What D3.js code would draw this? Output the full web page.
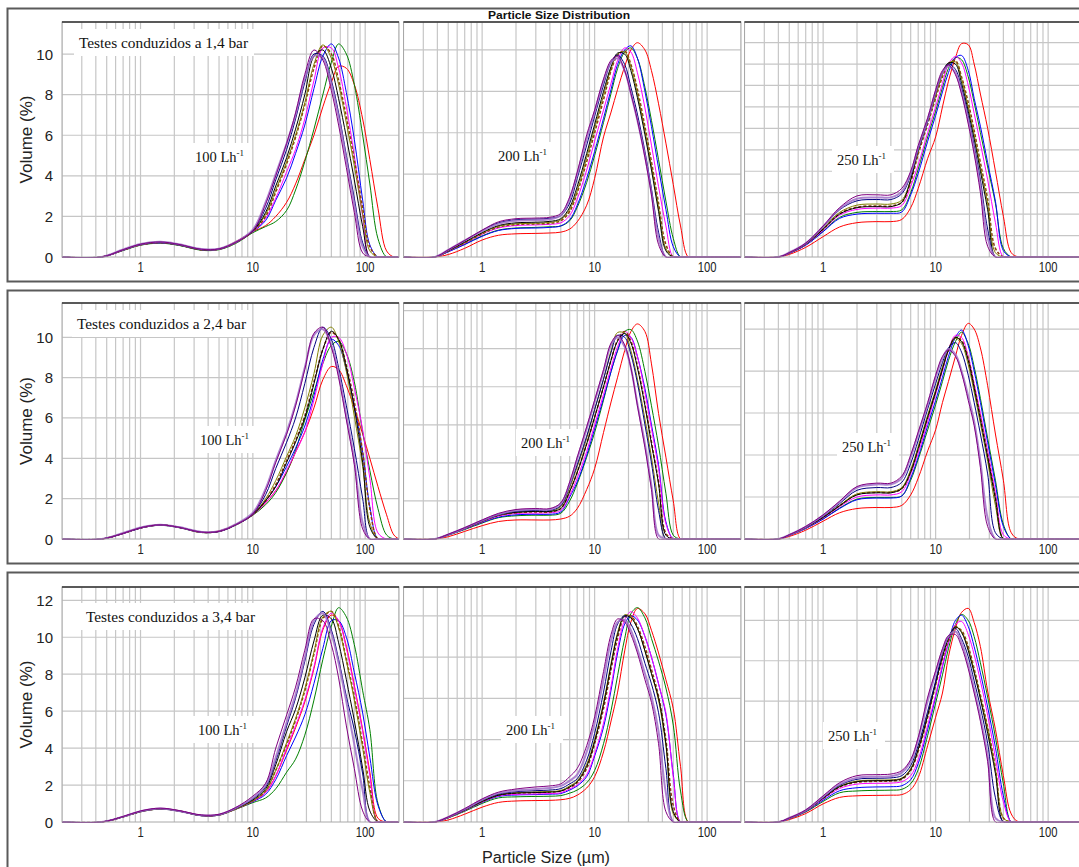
<!DOCTYPE html>
<html><head><meta charset="utf-8">
<script src="https://cdn.jsdelivr.net/npm/d3@7"></script>
<style>body{margin:0;background:#fff}svg{display:block}</style>
</head><body><svg id="c" width="1079" height="867"></svg>
<script>
// ---------------- data ----------------
const seriesNames  = ['purple','lilac','navy','black','olive','brown','magenta','blue','green','red'];
const seriesColors = ['#800080','#a070c8','#000080','#000000','#808000','#8b3a0f','#ff00ff','#0000ff','#008000','#ff0000'];
const xTickLabels = [1, 10, 100];
const rowLabels = ['Testes conduzidos a 1,4 bar','Testes conduzidos a 2,4 bar','Testes conduzidos a 3,4 bar'];
const flowLabels = ['100 Lh','200 Lh','250 Lh'];
const flowSup = '-1';
const yTickLabels = [[0,2,4,6,8,10],[0,2,4,6,8,10],[0,2,4,6,8,10,12]];
const yMaxes = [[11.58,11.35,10.96],[11.7,12.4,11.24],[12.72,11.4,11.66]];
const yGridSteps = [[2,2,1],[2,2,2],[2,2,2]];

const xGrid100 = [0.2,0.45,0.7,1,1.5,2.2,3.5,5,7,10,13,16,20,24,29,35,42,50,58,68,80,95,110,130,155,180,200];
const xGrid200 = [0.2,0.38,0.5,0.7,1,1.4,2,3,4,5,6,7,8.5,10,12,14,16,18.5,21,24,28,32,37,43,50,58,68,80,200];
const xGrid250 = [0.2,0.4,0.5,0.7,1,1.4,2,3,4,5,6,7,8.5,10,11.5,13,15,17,19.5,22,25,29,34,40,47,55,200];

// order of each panel: purple, lilac, navy, black, olive, brown, magenta, blue, green, red
const r1_100 = [
 [0,0,0.36,0.63,0.74,0.62,0.38,0.40,0.72,1.3,2.6,4.0,5.6,7.1,9.0,10.2,9.7,8.2,6.5,4.4,2.2,0.2,0,0,0,0,0],
 [0,0,0.37,0.64,0.75,0.63,0.39,0.41,0.73,1.35,2.7,4.1,5.6,7.0,8.8,9.9,9.8,8.5,6.9,4.8,2.6,0.5,0,0,0,0,0],
 [0,0,0.35,0.62,0.73,0.61,0.37,0.40,0.72,1.3,2.4,3.8,5.3,6.8,8.6,10.0,9.9,8.7,7.1,5.0,2.9,0.7,0,0,0,0,0],
 [0,0,0.35,0.62,0.72,0.61,0.37,0.39,0.71,1.28,2.2,3.5,4.9,6.3,8.0,9.9,10.2,9.3,7.8,5.9,3.8,1.5,0,0,0,0,0],
 [0,0,0.34,0.61,0.72,0.6,0.36,0.39,0.7,1.27,2.1,3.3,4.7,6.0,7.6,9.5,10.45,9.8,8.5,6.6,4.5,2.1,0.3,0,0,0,0],
 [0,0,0.34,0.61,0.71,0.6,0.36,0.39,0.7,1.27,2.0,3.2,4.6,5.9,7.5,9.3,10.4,10.0,8.7,6.9,4.8,2.4,0.5,0,0,0,0],
 [0,0,0.34,0.6,0.71,0.6,0.36,0.38,0.7,1.25,1.9,2.9,4.2,5.3,6.8,8.7,10.3,10.3,9.3,7.4,5.0,2.0,0,0,0,0,0],
 [0,0,0.33,0.6,0.7,0.59,0.35,0.38,0.69,1.25,1.8,2.8,3.9,5.1,6.5,8.3,9.9,10.5,9.8,8.1,5.8,2.8,0.6,0,0,0,0],
 [0,0,0.32,0.58,0.68,0.57,0.33,0.36,0.66,1.2,1.5,1.75,2.3,3.3,4.7,6.3,8.0,9.6,10.5,10.0,8.5,6.0,3.6,0.9,0,0,0],
 [0,0,0.33,0.6,0.7,0.58,0.35,0.4,0.75,1.25,1.55,2.0,2.7,3.6,4.8,6.0,7.4,8.6,9.4,9.3,8.5,6.8,4.8,2.4,0.3,0,0]
];
const r1_200 = [
 [0,0,0.35,0.8,1.3,1.7,1.85,1.88,1.92,2.1,2.9,4.1,5.9,7.1,8.6,9.5,9.7,9.0,7.9,6.6,4.8,3.0,0.6,0,0,0,0,0,0],
 [0,0,0.34,0.8,1.25,1.6,1.75,1.78,1.82,2.0,2.8,4.0,5.7,7.0,8.5,9.4,9.6,9.0,7.9,6.6,4.9,3.1,0.9,0,0,0,0,0,0],
 [0,0,0.33,0.78,1.28,1.65,1.8,1.83,1.87,2.0,2.6,3.8,5.4,6.8,8.3,9.4,9.75,9.3,8.2,6.9,5.1,3.3,1.2,0,0,0,0,0,0],
 [0,0,0.3,0.72,1.18,1.52,1.65,1.68,1.72,1.85,2.4,3.4,5.0,6.4,8.0,9.2,9.85,9.8,9.0,7.7,5.9,4.2,2.2,0.3,0,0,0,0,0],
 [0,0,0.3,0.7,1.15,1.48,1.6,1.63,1.67,1.8,2.3,3.2,4.8,6.2,7.8,9.1,9.8,9.9,9.2,7.9,6.1,4.4,2.4,0.4,0,0,0,0,0],
 [0,0,0.29,0.68,1.12,1.45,1.57,1.6,1.63,1.75,2.2,3.1,4.6,6.0,7.6,9.0,9.75,9.95,9.3,8.1,6.3,4.6,2.6,0.6,0,0,0,0,0],
 [0,0,0.28,0.66,1.1,1.4,1.52,1.55,1.58,1.65,2.0,2.8,4.2,5.6,7.1,8.4,9.5,10.1,9.9,8.9,7.2,5.4,3.4,1.5,0,0,0,0,0],
 [0,0,0.25,0.6,1.0,1.28,1.38,1.4,1.43,1.5,1.8,2.5,3.8,5.1,6.7,8.1,9.3,10.0,10.2,9.6,8.0,6.3,4.3,2.3,0.5,0,0,0,0],
 [0,0,0.26,0.62,1.02,1.3,1.4,1.43,1.46,1.5,1.75,2.4,3.6,4.9,6.5,7.9,9.1,9.9,10.1,9.6,8.2,6.6,4.7,2.7,0.9,0,0,0,0],
 [0,0,0.12,0.42,0.82,1.05,1.12,1.14,1.16,1.2,1.35,1.7,2.5,3.8,5.8,7.0,8.1,9.2,10.0,10.35,10.0,9.0,7.4,5.5,3.5,1.5,0,0,0]
];
const r1_250 = [
 [0,0,0.2,0.65,1.45,2.3,2.85,2.9,2.9,3.2,4.0,5.2,6.5,7.8,8.7,8.95,8.5,7.6,6.2,4.8,3.0,0.5,0,0,0,0,0],
 [0,0,0.21,0.64,1.42,2.25,2.72,2.78,2.78,3.05,3.9,5.1,6.4,7.7,8.6,8.9,8.6,7.7,6.4,5.0,3.3,0.9,0,0,0,0,0],
 [0,0,0.2,0.63,1.4,2.2,2.62,2.68,2.68,2.95,3.8,5.0,6.3,7.7,8.6,9.0,8.75,7.9,6.6,5.2,3.6,1.3,0,0,0,0,0],
 [0,0,0.19,0.6,1.3,2.0,2.3,2.35,2.35,2.55,3.6,5.0,6.4,7.6,8.6,9.05,9.0,8.1,6.8,5.5,4.0,2.2,0,0,0,0,0],
 [0,0,0.2,0.6,1.33,2.08,2.42,2.47,2.47,2.65,3.6,4.9,6.3,7.5,8.5,9.05,9.1,8.3,7.0,5.7,4.2,2.5,0.2,0,0,0,0],
 [0,0,0.19,0.6,1.3,2.02,2.33,2.38,2.38,2.55,3.5,4.8,6.2,7.4,8.4,9.0,9.15,8.4,7.2,5.9,4.4,2.7,0.4,0,0,0,0],
 [0,0,0.18,0.58,1.25,1.95,2.22,2.28,2.28,2.4,3.3,4.3,5.8,7.0,8.1,9.0,9.35,9.05,8.0,6.7,5.3,3.6,1.6,0,0,0,0],
 [0,0,0.17,0.55,1.18,1.8,2.0,2.04,2.04,2.1,2.9,3.9,5.4,6.6,7.7,8.6,9.3,9.4,8.7,7.4,6.1,4.4,2.6,0.3,0,0,0],
 [0,0,0.17,0.56,1.2,1.85,2.08,2.12,2.12,2.2,3.0,4.1,5.6,6.8,7.9,8.8,9.3,9.2,8.4,7.2,5.8,4.2,2.5,0.4,0,0,0],
 [0,0,0.12,0.45,0.95,1.4,1.6,1.65,1.65,1.75,2.3,3.2,4.6,5.6,7.0,8.2,9.3,9.95,9.9,9.0,7.6,6.0,4.0,1.9,0.2,0,0]
];
const r2_100 = [
 [0,0,0.28,0.56,0.7,0.58,0.34,0.38,0.7,1.25,2.4,3.8,5.2,6.6,8.4,10.2,10.5,9.5,8.0,5.9,3.7,0.5,0,0,0,0,0],
 [0,0,0.3,0.57,0.71,0.59,0.35,0.39,0.72,1.3,2.5,3.9,5.3,6.7,8.5,10.1,10.4,9.6,8.2,6.1,3.9,0.8,0,0,0,0,0],
 [0,0,0.28,0.55,0.7,0.58,0.34,0.38,0.7,1.25,2.2,3.5,4.8,6.0,7.7,9.5,10.5,9.9,8.5,6.6,4.5,2.0,0,0,0,0,0],
 [0,0,0.28,0.55,0.7,0.58,0.33,0.38,0.7,1.22,1.9,2.6,3.8,4.8,6.0,7.7,9.4,10.3,9.9,8.5,6.5,3.8,0.6,0,0,0,0],
 [0,0,0.28,0.55,0.69,0.58,0.33,0.38,0.7,1.22,2.0,2.9,4.1,5.1,6.5,8.2,10.1,10.5,9.8,8.3,6.1,3.6,0.8,0,0,0,0],
 [0,0,0.28,0.55,0.7,0.58,0.33,0.38,0.7,1.22,1.9,2.7,3.9,4.9,6.1,7.8,9.4,10.25,9.9,8.6,6.8,4.3,1.5,0,0,0,0],
 [0,0,0.27,0.54,0.69,0.57,0.33,0.37,0.69,1.2,1.8,2.4,3.4,4.3,5.3,6.9,8.7,10.0,10.0,9.2,7.5,5.4,3.0,0.3,0,0,0],
 [0,0,0.27,0.54,0.69,0.57,0.33,0.37,0.69,1.2,1.9,2.6,3.6,4.5,5.6,7.1,8.9,9.9,9.6,8.4,6.6,4.3,1.6,0,0,0,0],
 [0,0,0.27,0.54,0.68,0.56,0.32,0.37,0.68,1.18,1.7,2.3,3.3,4.4,5.9,7.3,8.7,9.6,9.8,9.2,7.8,5.3,3.4,1.5,0.2,0,0],
 [0,0,0.27,0.55,0.7,0.58,0.33,0.4,0.72,1.22,1.8,2.4,3.3,4.3,5.3,6.5,7.9,8.55,8.4,7.6,6.5,5.2,4.0,2.6,1.2,0.2,0]
];
const r2_200 = [
 [0,0,0.25,0.6,1.0,1.35,1.55,1.6,1.6,1.9,3.0,4.3,5.9,7.3,8.9,10.3,10.7,10.2,9.0,7.0,4.8,2.6,0,0,0,0,0,0,0],
 [0,0,0.24,0.58,0.97,1.3,1.5,1.55,1.55,1.85,2.9,4.2,5.8,7.2,8.8,10.2,10.6,10.1,9.0,7.1,5.0,2.8,0.2,0,0,0,0,0,0],
 [0,0,0.24,0.57,0.95,1.28,1.45,1.5,1.5,1.75,2.8,3.9,5.4,6.8,8.4,9.8,10.7,10.6,9.7,8.2,6.0,4.0,1.5,0,0,0,0,0,0],
 [0,0,0.23,0.56,0.93,1.25,1.4,1.45,1.45,1.6,2.5,3.5,5.0,6.4,8.0,9.4,10.4,10.8,10.3,9.0,7.0,5.0,2.9,0.2,0,0,0,0,0],
 [0,0,0.23,0.56,0.93,1.25,1.4,1.45,1.45,1.7,2.7,3.8,5.3,6.8,8.4,9.9,10.85,10.8,9.9,8.4,6.3,4.3,1.9,0,0,0,0,0,0],
 [0,0,0.23,0.55,0.92,1.24,1.38,1.42,1.42,1.6,2.5,3.5,5.0,6.4,8.0,9.4,10.45,10.9,10.4,9.1,7.1,5.1,3.0,0.3,0,0,0,0,0],
 [0,0,0.22,0.54,0.9,1.2,1.34,1.36,1.38,1.5,2.3,3.2,4.6,6.0,7.6,9.0,10.1,10.9,10.6,9.6,7.7,5.8,3.7,0.8,0,0,0,0,0],
 [0,0,0.21,0.52,0.87,1.15,1.27,1.3,1.3,1.42,2.2,3.0,4.4,5.8,7.4,8.8,9.9,10.7,10.6,9.6,7.9,6.0,3.9,0.9,0,0,0,0,0],
 [0,0,0.2,0.5,0.84,1.12,1.22,1.25,1.25,1.35,2.0,2.9,4.3,5.6,7.3,8.8,9.9,10.9,11.0,10.4,8.8,7.0,4.9,2.4,0.2,0,0,0,0],
 [0,0,0.12,0.4,0.7,0.92,1.0,1.0,1.0,1.05,1.2,1.6,2.6,3.7,5.6,7.2,8.5,9.9,10.9,11.3,10.9,9.2,6.6,4.3,2.0,0,0,0,0]
];
const r2_250 = [
 [0,0,0.2,0.6,1.15,1.8,2.5,2.66,2.66,3.0,4.0,5.1,6.5,7.8,8.7,9.0,8.7,7.9,6.6,5.4,3.4,0.6,0,0,0,0,0],
 [0,0,0.2,0.58,1.12,1.75,2.45,2.6,2.6,2.9,3.9,5.0,6.4,7.7,8.6,9.05,8.8,8.0,6.8,5.6,3.7,1.0,0,0,0,0,0],
 [0,0,0.2,0.57,1.08,1.68,2.32,2.45,2.45,2.7,3.6,4.7,6.2,7.4,8.4,9.1,9.35,8.9,7.8,6.5,5.0,3.1,0.3,0,0,0,0],
 [0,0,0.19,0.55,1.03,1.58,2.1,2.2,2.2,2.4,3.2,4.3,5.8,7.0,8.1,9.0,9.6,9.4,8.5,7.2,5.7,3.9,1.9,0,0,0,0],
 [0,0,0.19,0.55,1.04,1.6,2.15,2.25,2.25,2.45,3.3,4.4,5.9,7.1,8.2,9.0,9.55,9.3,8.3,7.0,5.5,3.7,1.6,0,0,0,0],
 [0,0,0.19,0.55,1.03,1.59,2.12,2.22,2.22,2.4,3.2,4.3,5.8,7.0,8.1,9.0,9.6,9.45,8.6,7.3,5.8,4.0,2.0,0,0,0,0],
 [0,0,0.18,0.53,1.0,1.54,2.0,2.1,2.1,2.25,3.1,4.1,5.6,6.9,8.0,9.0,9.7,9.6,8.7,7.4,6.0,4.2,2.2,0.2,0,0,0],
 [0,0,0.17,0.5,0.95,1.45,1.87,1.95,1.95,2.05,2.9,3.9,5.4,6.6,7.7,8.7,9.6,9.95,9.2,8.0,6.5,4.6,2.6,0.6,0,0,0],
 [0,0,0.17,0.51,0.96,1.47,1.9,1.98,1.98,2.05,2.8,3.8,5.2,6.4,7.5,8.5,9.4,9.85,9.3,8.2,6.7,4.8,2.8,0.7,0,0,0],
 [0,0,0.12,0.42,0.85,1.25,1.45,1.5,1.5,1.6,2.1,2.9,4.2,5.2,6.5,7.5,8.7,9.7,10.27,10.0,9.1,7.3,5.0,2.8,0.3,0,0]
];
const r3_100 = [
 [0,0,0.3,0.6,0.75,0.62,0.38,0.42,0.78,1.4,2.1,4.0,5.8,7.3,9.3,11.0,10.9,9.6,7.8,5.2,2.9,0.6,0,0,0,0,0],
 [0,0,0.29,0.58,0.73,0.6,0.36,0.4,0.75,1.3,2.0,3.5,5.4,6.9,8.9,10.9,11.3,10.2,8.6,6.5,4.2,1.7,0,0,0,0,0],
 [0,0,0.29,0.58,0.73,0.6,0.36,0.4,0.74,1.25,1.9,3.3,5.2,6.7,8.7,10.7,11.4,10.4,8.8,6.8,5.0,2.6,0,0,0,0,0],
 [0,0,0.28,0.57,0.72,0.6,0.35,0.39,0.72,1.2,1.8,3.1,4.9,6.1,7.8,9.8,11.2,11.0,9.7,7.7,5.5,2.9,0.6,0,0,0,0],
 [0,0,0.28,0.56,0.72,0.6,0.35,0.39,0.7,1.15,1.7,2.8,4.3,5.6,7.2,9.2,11.1,11.4,10.5,8.7,6.6,4.0,1.6,0,0,0,0],
 [0,0,0.28,0.56,0.72,0.6,0.35,0.39,0.7,1.15,1.7,2.8,4.2,5.5,7.1,9.1,11.0,11.4,10.6,8.8,6.8,4.2,1.9,0,0,0,0],
 [0,0,0.28,0.56,0.72,0.59,0.35,0.38,0.7,1.12,1.6,2.5,4.0,5.2,6.6,8.4,10.5,11.3,10.9,9.4,7.3,4.9,2.5,0,0,0,0],
 [0,0,0.28,0.56,0.71,0.59,0.34,0.38,0.7,1.1,1.5,2.3,3.6,4.6,5.8,7.5,9.4,10.9,10.9,10.0,8.1,5.9,3.5,0.9,0,0,0],
 [0,0,0.27,0.55,0.7,0.58,0.34,0.37,0.68,1.05,1.3,1.8,2.7,3.4,4.7,6.6,8.8,10.6,11.6,11.1,9.6,7.1,5.0,1.0,0,0,0],
 [0,0,0.28,0.56,0.71,0.59,0.35,0.38,0.7,1.12,1.6,2.5,3.9,5.1,6.5,8.3,10.4,11.2,10.9,9.5,7.4,5.0,2.7,0.2,0,0,0]
];
const r3_200 = [
 [0,0,0.25,0.65,1.12,1.45,1.6,1.7,1.75,1.85,2.2,2.6,3.7,5.1,7.3,9.1,9.85,9.7,9.1,8.2,6.9,5.8,3.8,0.5,0,0,0,0,0],
 [0,0,0.24,0.62,1.08,1.4,1.53,1.6,1.65,1.75,2.0,2.3,3.4,4.8,6.9,8.8,9.7,9.8,9.3,8.4,7.2,6.1,4.4,1.4,0,0,0,0,0],
 [0,0,0.23,0.6,1.05,1.35,1.47,1.52,1.55,1.62,1.85,2.1,3.0,4.3,6.3,8.3,9.6,10.0,9.6,8.9,7.7,6.7,5.3,2.6,0,0,0,0,0],
 [0,0,0.22,0.58,1.0,1.3,1.4,1.43,1.45,1.5,1.7,1.95,2.7,3.9,5.7,7.6,9.1,10.0,9.9,9.4,8.3,7.2,6.0,3.8,0.5,0,0,0,0],
 [0,0,0.22,0.58,1.0,1.32,1.42,1.46,1.48,1.53,1.75,2.0,2.8,4.0,5.8,7.7,9.2,10.05,9.95,9.4,8.3,7.2,5.9,3.7,0.4,0,0,0,0],
 [0,0,0.22,0.57,0.99,1.3,1.4,1.43,1.45,1.5,1.68,1.9,2.6,3.8,5.5,7.4,8.9,9.95,10.0,9.5,8.5,7.4,6.1,4.0,0.8,0,0,0,0],
 [0,0,0.22,0.56,0.97,1.27,1.34,1.36,1.38,1.42,1.6,1.8,2.3,3.3,4.8,6.6,8.4,9.8,10.2,9.9,9.0,8.0,6.7,5.3,2.2,0,0,0,0],
 [0,0,0.21,0.55,0.95,1.24,1.31,1.33,1.35,1.38,1.55,1.75,2.2,3.2,4.6,6.4,8.2,9.6,10.0,9.8,9.0,8.0,6.7,5.2,2.3,0,0,0,0],
 [0,0,0.2,0.52,0.9,1.17,1.22,1.24,1.25,1.28,1.4,1.55,1.9,2.5,3.8,5.4,7.1,8.9,10.1,10.4,9.9,8.9,7.8,6.5,4.7,1.5,0,0,0],
 [0,0,0.1,0.38,0.72,0.95,1.02,1.04,1.05,1.08,1.15,1.3,1.65,2.2,3.4,4.9,6.3,8.3,9.7,10.36,10.1,9.3,8.2,6.9,5.5,2.7,0,0,0]
];
const r3_250 = [
 [0,0,0.2,0.6,1.3,1.95,2.3,2.35,2.38,2.55,3.1,4.2,6.2,7.5,8.6,9.25,9.3,8.7,7.6,6.4,5.0,3.0,0,0,0,0,0],
 [0,0,0.2,0.58,1.25,1.88,2.2,2.25,2.27,2.45,3.0,4.1,6.0,7.4,8.5,9.2,9.45,8.9,7.8,6.6,5.2,3.3,0.2,0,0,0,0],
 [0,0,0.19,0.57,1.22,1.82,2.12,2.17,2.19,2.3,2.8,3.8,5.5,7.0,8.4,9.2,9.6,9.1,8.2,7.0,5.7,3.9,1.2,0,0,0,0],
 [0,0,0.19,0.56,1.18,1.75,2.0,2.05,2.06,2.15,2.6,3.6,5.3,6.9,8.2,9.1,9.68,9.4,8.5,7.4,6.1,4.4,2.4,0,0,0,0],
 [0,0,0.19,0.56,1.19,1.77,2.03,2.08,2.09,2.18,2.65,3.6,5.3,6.9,8.2,9.1,9.7,9.45,8.6,7.5,6.2,4.6,2.6,0.2,0,0,0],
 [0,0,0.19,0.55,1.17,1.73,1.97,2.02,2.03,2.12,2.55,3.5,5.2,6.8,8.1,9.0,9.65,9.5,8.7,7.6,6.3,4.7,2.7,0.2,0,0,0],
 [0,0,0.18,0.54,1.14,1.66,1.88,1.92,1.93,2.0,2.3,3.1,4.8,6.3,7.8,8.9,9.8,9.95,9.3,8.3,7.0,5.3,3.2,1.0,0,0,0],
 [0,0,0.17,0.52,1.08,1.55,1.7,1.74,1.75,1.8,2.1,2.9,4.6,6.2,7.7,8.9,10.0,10.26,9.7,8.7,7.4,5.7,3.7,1.3,0,0,0],
 [0,0,0.16,0.5,1.02,1.45,1.54,1.57,1.58,1.62,1.9,2.6,4.3,5.9,7.3,8.6,9.8,10.3,10.0,9.2,7.9,6.2,4.2,1.9,0,0,0],
 [0,0,0.12,0.42,0.9,1.22,1.3,1.32,1.33,1.36,1.6,2.2,3.8,5.2,6.4,8.2,9.6,10.4,10.6,9.9,8.7,6.5,4.6,2.3,0.4,0,0]
];

// ---------------- layout ----------------
const panels = [[r1_100, r1_200, r1_250],[r2_100, r2_200, r2_250],[r3_100, r3_200, r3_250]];
const xGrids = [xGrid100, xGrid200, xGrid250];
const rowFrame = [[8,281],[290,563],[572,880]];
const rowPlot  = [[22,257],[303,539],[587,822]];
const colPlot  = [[62,399],[403.5,741],[744.5,1082]];
const rowTextPos = [[79,48],[77,329],[86,622]];
const flowPos = [[[195,162],[498,161],[837,165]],[[200,445],[521,448],[842,452]],[[198,735],[506,735],[828,741]]];

const svg = d3.select('#c');
svg.append('rect').attr('width',1079).attr('height',867).attr('fill','#fff');
const defs = svg.append('defs');

rowFrame.forEach(([t,b]) => {
  svg.append('rect').attr('x',7.5).attr('y',t+0.5).attr('width',1090).attr('height',b-t)
    .attr('fill','#fff').attr('stroke','#5a5a5a').attr('stroke-width',2);
});

const gridColor = '#c6c6c6';
const sans = "Arial, 'Liberation Sans', Helvetica, sans-serif";
const serif = "'Times New Roman', 'Liberation Serif', serif";

panels.forEach((row, ri) => {
  const [top, bot] = rowPlot[ri];
  row.forEach((series, ci) => {
    const [left, right] = colPlot[ci];
    const x = d3.scaleLog().domain([0.2, 200]).range([left, right]);
    const y = d3.scaleLinear().domain([0, yMaxes[ri][ci]]).range([bot, top]);
    const g = svg.append('g');
    const cid = `clip${ri}${ci}`;
    defs.append('clipPath').attr('id', cid).append('rect')
      .attr('x', left).attr('y', top).attr('width', right-left).attr('height', bot-top+0.8);
    g.append('rect').attr('x',left).attr('y',top).attr('width',right-left).attr('height',bot-top).attr('fill','#fff');
    const gg = g.append('g').attr('clip-path', `url(#${cid})`);
    x.ticks().forEach(t => {
      gg.append('line').attr('x1', x(t)).attr('x2', x(t)).attr('y1', top).attr('y2', bot)
        .attr('stroke', gridColor).attr('stroke-width', 1.2);
    });
    const step = yGridSteps[ri][ci];
    d3.range(step, yMaxes[ri][ci], step).forEach(v => {
      gg.append('line').attr('x1', left).attr('x2', right).attr('y1', y(v)).attr('y2', y(v))
        .attr('stroke', gridColor).attr('stroke-width', 1.2);
    });
    if (ci === 0) {
      const [tx, ty] = rowTextPos[ri];
      gg.append('rect').attr('x', tx-5).attr('y', ty-19).attr('width', 180).attr('height', 27).attr('fill','#fff');
      gg.append('text').attr('x', tx).attr('y', ty).attr('font-family', serif).attr('font-size', 14.5)
        .attr('fill','#111').attr('textLength',169).attr('lengthAdjust','spacingAndGlyphs').text(rowLabels[ri]);
    }
    const [fx, fy] = flowPos[ri][ci];
    gg.append('rect').attr('x', fx-5).attr('y', fy-19).attr('width', 62).attr('height', 27).attr('fill','#fff');
    const ft = gg.append('text').attr('x', fx).attr('y', fy).attr('font-family', serif).attr('font-size', 14.5).attr('fill','#111');
    ft.append('tspan').text(flowLabels[ci]);
    ft.append('tspan').attr('dy', -6).attr('font-size', 9).text(flowSup);

    const xs = xGrids[ci];
    const line = d3.line().x((d,i) => x(xs[i])).y(d => y(d)).curve(d3.curveCatmullRom.alpha(0.5));
    for (let s = series.length - 1; s >= 0; s--) {
      const p = gg.append('path').attr('d', line(series[s])).attr('fill','none')
        .attr('stroke', seriesColors[s]).attr('stroke-width', seriesNames[s]==='lilac' ? 2 : 1)
        .attr('stroke-linejoin','round');
      if (seriesNames[s] === 'brown') p.attr('stroke-dasharray','3,2').attr('stroke-width',1.5);
      if (seriesNames[s] === 'lilac') p.attr('stroke-opacity', 0.85);
    }
    g.append('rect').attr('x',left).attr('y',top).attr('width',right-left).attr('height',bot-top)
      .attr('fill','none').attr('stroke','#a8a8a8').attr('stroke-width',1);
    g.append('line').attr('x1',left).attr('x2',right).attr('y1',top).attr('y2',top)
      .attr('stroke','#303030').attr('stroke-width',1.6);
    xTickLabels.forEach(t => {
      g.append('text').attr('transform', `translate(${x(t)},${bot+15}) scale(0.75,1)`)
        .attr('text-anchor','middle').attr('font-family', sans).attr('font-size', 15)
        .attr('fill','#222').text(t);
    });
    if (ci === 0) {
      yTickLabels[ri].forEach(v => {
        g.append('text').attr('x', 53).attr('y', y(v) + 5.5).attr('text-anchor','end')
          .attr('font-family', sans).attr('font-size', 15).attr('fill','#222').text(v);
      });
      g.append('text').attr('transform', `translate(32,${(top+bot)/2}) rotate(-90)`)
        .attr('text-anchor','middle').attr('font-family', sans).attr('font-size', 16)
        .attr('fill','#222').attr('textLength',88).attr('lengthAdjust','spacingAndGlyphs').text('Volume (%)');
    }
  });
});

svg.append('text').attr('x', 559).attr('y', 19).attr('text-anchor','middle')
  .attr('font-family', sans).attr('font-size', 11).attr('font-weight','bold').attr('fill','#111')
  .attr('textLength',142).attr('lengthAdjust','spacingAndGlyphs').text('Particle Size Distribution');
svg.append('text').attr('x', 546).attr('y', 863).attr('text-anchor','middle')
  .attr('font-family', sans).attr('font-size', 16).attr('fill','#222')
  .attr('textLength',128).attr('lengthAdjust','spacingAndGlyphs').text('Particle Size (µm)');
</script></body></html>
